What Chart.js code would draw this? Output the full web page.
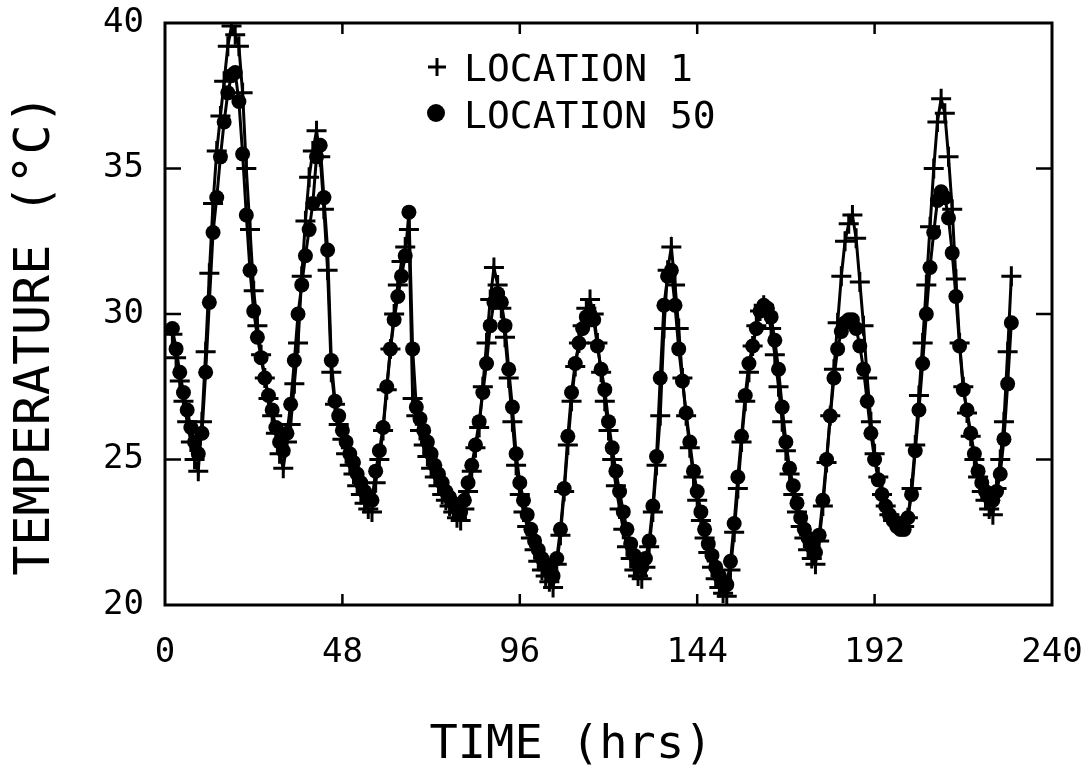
<!DOCTYPE html>
<html>
<head>
<meta charset="utf-8">
<title>Temperature vs time</title>
<script src="https://cdn.jsdelivr.net/npm/chart.js@4.4.1/dist/chart.umd.min.js"></script>
<style>
  html, body { margin: 0; padding: 0; background: #fff; }
  #wrap { width: 1090px; height: 768px; position: relative; }
</style>
</head>
<body>
<div id="wrap"><canvas id="chart" width="1090" height="768"></canvas></div>
<script>
// Hourly readings, first reading at hour 2
const HOUR_START = 2;

const LOCATION_1 = [
  29.3, 28.5, 27.7, 27.0, 26.3, 25.6, 25.0, 24.6,
  26.3, 28.7, 31.4, 33.8, 35.6, 36.8, 38.0, 39.2, 39.9, 39.6, 39.2, 37.6, 35.0, 32.9, 30.8,
  29.6, 28.6, 27.8, 27.1, 26.5, 25.9, 25.2, 24.7,
  25.6, 26.2, 27.6, 29.0, 31.3, 33.2, 34.7, 35.6, 36.3, 35.4, 33.6, 31.5,
  28.0, 26.9, 26.2, 25.7, 25.2, 24.8, 24.5, 24.1, 23.8, 23.5, 23.3, 23.2,
  24.2, 25.0, 26.0, 27.4, 28.8, 30.0, 31.0, 31.8, 32.3, 32.9,
  27.1, 26.5, 26.0, 25.5, 25.1, 24.7, 24.4, 24.1, 23.8, 23.6, 23.4, 23.2, 23.0, 22.9,
  23.3, 23.9, 24.6, 25.4, 26.1, 27.5, 29.0, 30.5, 31.6, 31.0, 30.2, 29.2, 27.8, 26.3, 24.8,
  23.8, 23.2, 22.7, 22.3, 21.9, 21.5, 21.2, 21.0, 20.8, 20.6,
  21.4, 22.4, 23.9, 25.5, 27.0, 28.2, 29.0, 29.6, 30.2, 30.5, 30.0, 29.0, 28.0, 27.0, 26.0,
  25.0, 24.1, 23.3, 22.6, 22.0, 21.6, 21.2, 21.0, 20.9,
  21.3, 22.0, 23.2, 24.8, 26.5, 29.5, 31.5, 32.3, 31.0, 29.5, 27.8, 26.5, 25.4,
  24.4, 23.6, 22.9, 22.3, 21.8, 21.3, 20.9, 20.6, 20.4, 20.3,
  21.2, 22.5, 24.0, 25.6, 27.0, 28.0, 28.9, 29.6, 30.1, 30.3, 30.0, 29.5, 28.6, 27.5, 26.3,
  25.3, 24.5, 23.8, 23.2, 22.7, 22.3, 21.9, 21.6, 21.4,
  22.2, 23.4, 24.9, 26.5, 28.1, 29.7, 31.3, 32.5, 33.1, 33.4, 32.6, 31.1, 29.6, 27.8, 26.3,
  25.2, 24.4, 23.8, 23.4, 23.1, 22.9, 22.8, 22.7, 22.7,
  23.0, 24.0, 25.5, 27.2, 29.0, 31.0, 33.0, 35.0, 36.6, 37.4, 36.9, 35.4, 33.6, 31.2, 29.0,
  27.5, 26.6, 25.8, 25.0, 24.4, 23.9, 23.6, 23.3, 23.1,
  24.0, 25.0, 26.3, 28.7, 31.3
];

const LOCATION_50 = [
  29.5, 28.8, 28.0, 27.3, 26.7, 26.1, 25.6, 25.2,
  25.9, 28.0, 30.4, 32.8, 34.0, 35.4, 36.6, 37.6, 38.2, 38.3, 37.3, 35.5, 33.4, 31.5, 30.1,
  29.2, 28.5, 27.8, 27.2, 26.7, 26.1, 25.6, 25.3,
  25.9, 26.9, 28.4, 30.0, 31.0, 32.0, 32.9, 33.8, 35.4, 35.8, 34.0, 32.2,
  28.4, 27.0, 26.5, 26.0, 25.6, 25.2, 24.9, 24.5, 24.2, 23.9, 23.7, 23.6,
  24.6, 25.3, 26.1, 27.5, 28.8, 29.8, 30.6, 31.3, 32.0, 33.5,
  28.8, 26.8, 26.4, 26.0, 25.6, 25.2, 24.8, 24.5, 24.2, 23.9, 23.7, 23.5, 23.3, 23.2,
  23.6, 24.2, 24.8, 25.5, 26.3, 27.3, 28.3, 29.6, 30.4, 30.7, 30.4, 29.6, 28.1, 26.8, 25.2,
  24.2, 23.6, 23.1, 22.6, 22.2, 21.9, 21.6, 21.4, 21.2, 21.0,
  21.6, 22.6, 24.0, 25.8, 27.3, 28.3, 29.0, 29.5, 29.9, 30.0, 29.8, 28.9, 28.1, 27.4, 26.3,
  25.4, 24.6, 23.9, 23.2, 22.6, 22.1, 21.7, 21.4, 21.3,
  21.6, 22.2, 23.4, 25.1, 27.8, 30.3, 31.3, 31.5, 30.3, 28.8, 27.7, 26.6, 25.6,
  24.6, 23.9, 23.2, 22.6, 22.1, 21.7, 21.3, 21.0, 20.8, 20.7,
  21.5, 22.8, 24.4, 25.8, 27.2, 28.3, 28.9, 29.5, 30.1, 30.3, 30.2, 29.9, 29.1, 28.1, 26.8,
  25.6, 24.7, 24.1, 23.5, 23.0, 22.6, 22.3, 22.0, 21.8,
  22.4, 23.6, 25.0, 26.5, 27.8, 28.8, 29.4, 29.7, 29.8, 29.8, 29.5, 28.9, 28.1, 27.0, 25.9,
  25.0, 24.3, 23.8, 23.4, 23.1, 22.9, 22.7, 22.6, 22.6,
  23.0, 23.8, 25.3, 26.7, 28.3, 30.0, 31.6, 32.8, 33.9, 34.2, 34.0, 33.3, 32.1, 30.6, 28.9,
  27.4, 26.7, 25.9, 25.2, 24.6, 24.2, 23.9, 23.7, 23.6,
  23.9, 24.5, 25.7, 27.6, 29.7
];

const SERIES_NAMES = ['LOCATION 1', 'LOCATION 50'];
const X_TICKS = [0, 48, 96, 144, 192, 240];
const Y_TICKS = [20, 25, 30, 35, 40];
const X_TITLE = 'TIME (hrs)';
const Y_TITLE = 'TEMPERATURE (°C)';

const FONT = '"DejaVu Sans Mono", "Liberation Mono", monospace';
const INK = '#000';

const hours = LOCATION_1.map((_, i) => HOUR_START + i);
const toPoints = vals => vals.map((v, i) => ({ x: hours[i], y: v }));

// Box frame with inward tick marks on all four sides
const framePlugin = {
  id: 'frame',
  afterDatasetsDraw(chart) {
    const { ctx, chartArea: a, scales } = chart;
    ctx.save();
    ctx.strokeStyle = INK;
    ctx.lineWidth = 3;
    ctx.strokeRect(a.left, a.top, a.right - a.left, a.bottom - a.top);
    ctx.lineWidth = 2.5;
    ctx.beginPath();
    X_TICKS.slice(1, -1).forEach(v => {
      const x = scales.x.getPixelForValue(v);
      ctx.moveTo(x, a.bottom); ctx.lineTo(x, a.bottom - 11);
      ctx.moveTo(x, a.top); ctx.lineTo(x, a.top + 11);
    });
    Y_TICKS.slice(1, -1).forEach(v => {
      const y = scales.y.getPixelForValue(v);
      ctx.moveTo(a.left, y); ctx.lineTo(a.left + 16, y);
      ctx.moveTo(a.right, y); ctx.lineTo(a.right - 16, y);
    });
    ctx.stroke();
    ctx.restore();
  }
};

// Axis titles and the in-plot key
const labelsPlugin = {
  id: 'labels',
  afterDraw(chart) {
    const { ctx } = chart;
    ctx.save();
    ctx.fillStyle = INK;
    ctx.textBaseline = 'middle';

    ctx.font = '47px ' + FONT;
    ctx.textAlign = 'center';
    ctx.fillText(X_TITLE, 571, 746);

    ctx.save();
    ctx.translate(36, 335);
    ctx.rotate(-Math.PI / 2);
    ctx.font = '50px ' + FONT;
    ctx.fillText(Y_TITLE, 0, 0);
    ctx.restore();

    // key
    ctx.font = '38px ' + FONT;
    ctx.textAlign = 'left';
    ctx.textBaseline = 'alphabetic';
    ctx.fillText(SERIES_NAMES[0], 464, 81);
    ctx.fillText(SERIES_NAMES[1], 464, 128);

    ctx.strokeStyle = INK;
    ctx.lineWidth = 3;
    ctx.beginPath();
    ctx.moveTo(428, 67); ctx.lineTo(446, 67);
    ctx.moveTo(437, 58); ctx.lineTo(437, 76);
    ctx.stroke();
    ctx.beginPath();
    ctx.arc(436, 113, 9, 0, Math.PI * 2);
    ctx.fill();
    ctx.restore();
  }
};

new Chart(document.getElementById('chart'), {
  type: 'line',
  data: {
    datasets: [
      {
        label: SERIES_NAMES[0],
        data: toPoints(LOCATION_1),
        borderColor: INK,
        borderWidth: 3,
        pointStyle: 'cross',
        pointRadius: 10,
        pointBorderWidth: 3,
        pointBorderColor: INK,
        pointBackgroundColor: INK,
        tension: 0,
        fill: false
      },
      {
        label: SERIES_NAMES[1],
        data: toPoints(LOCATION_50),
        borderColor: INK,
        borderWidth: 3,
        pointStyle: 'circle',
        pointRadius: 7.5,
        pointBorderWidth: 0,
        pointBackgroundColor: INK,
        tension: 0,
        fill: false
      }
    ]
  },
  options: {
    responsive: false,
    animation: false,
    devicePixelRatio: 1,
    layout: { padding: { top: 23, right: 38, bottom: 0, left: 0 } },
    plugins: {
      legend: { display: false },
      tooltip: { enabled: false },
      title: { display: false }
    },
    scales: {
      x: {
        type: 'linear',
        min: 0,
        max: 240,
        afterBuildTicks: s => { s.ticks = X_TICKS.map(v => ({ value: v })); },
        afterFit: s => { s.height = 163; s.paddingLeft = 0; s.paddingRight = 0; },
        grid: { display: false },
        border: { display: false },
        ticks: {
          color: INK,
          font: { family: FONT, size: 34 },
          padding: 20,
          maxRotation: 0,
          autoSkip: false
        }
      },
      y: {
        min: 20,
        max: 40,
        afterBuildTicks: s => { s.ticks = Y_TICKS.map(v => ({ value: v })); },
        afterFit: s => { s.width = 165; s.paddingTop = 0; s.paddingBottom = 0; },
        grid: { display: false },
        border: { display: false },
        ticks: {
          color: INK,
          font: { family: FONT, size: 34 },
          padding: 13
        }
      }
    }
  },
  plugins: [framePlugin, labelsPlugin]
});
</script>
</body>
</html>
